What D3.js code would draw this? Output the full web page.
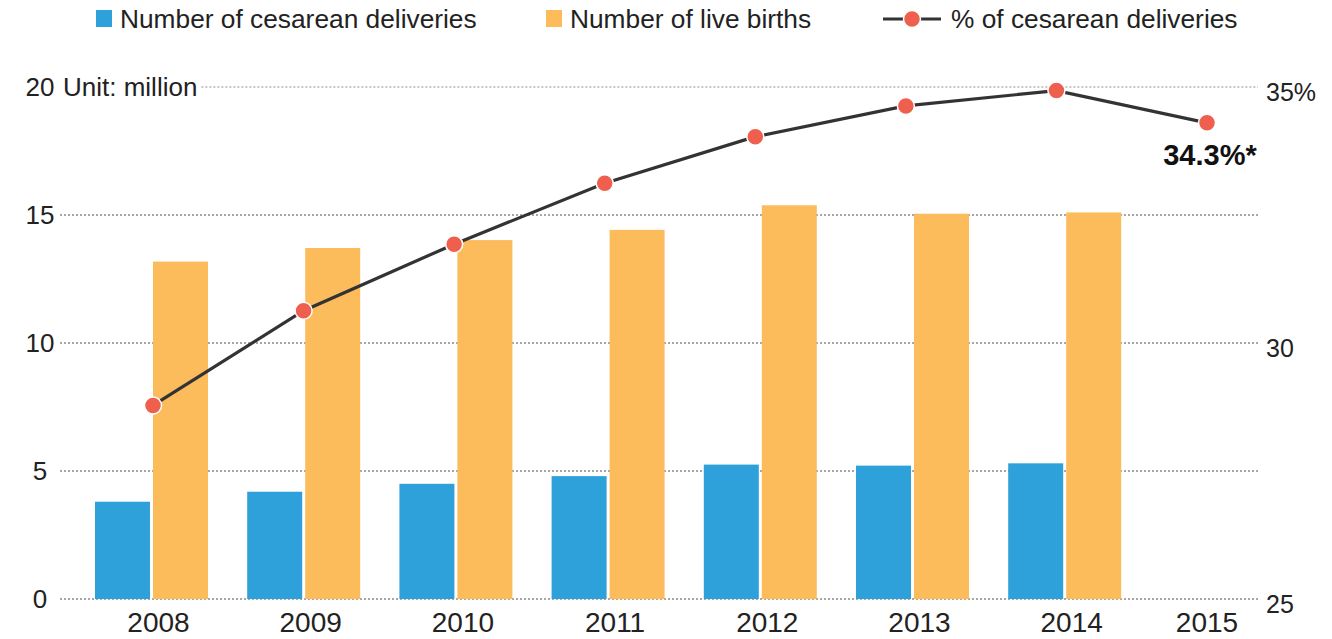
<!DOCTYPE html>
<html><head><meta charset="utf-8">
<script src="https://cdn.jsdelivr.net/npm/d3@7"></script>
<style>
body{margin:0;background:#fff;}
svg{display:block;font-family:"Liberation Sans",Arial,sans-serif;}
</style></head>
<body>
<svg id="chart" width="1332" height="639"></svg>
<script>
const years = ["2008","2009","2010","2011","2012","2013","2014","2015"];
const cesarean = [3.80, 4.19, 4.50, 4.80, 5.25, 5.21, 5.30, null];
const births = [13.18, 13.71, 14.02, 14.42, 15.38, 15.05, 15.10, null];
const rate = [28.78, 30.63, 31.93, 33.12, 34.03, 34.63, 34.93, 34.3];
const leftTicks = [0, 5, 10, 15, 20];
const rightTicks = [25, 30, 35];
const seriesNames = ["Number of cesarean deliveries", "Number of live births", "% of cesarean deliveries"];
const unitLabel = "Unit: million";
const lastLabel = "34.3%*";

const blue = "#2fa1da", orange = "#fcbc5c", red = "#ef5f4e", lineCol = "#333";
const svg = d3.select("#chart");

const yL = d3.scaleLinear().domain([0, 20]).range([599, 87]);
const yR = d3.scaleLinear().domain([25, 35]).range([599, 87]);
const x0 = d3.scaleBand().domain(years).range([75.4, 1293]).paddingInner(0.2576).paddingOuter(0.1288);
const x1 = d3.scaleBand().domain(["c","b"]).range([0, x0.bandwidth()]).paddingInner(0.0517);
const xL = d3.scalePoint().domain(years).range([153, 1207]);

const gridX0 = 60, gridX1 = 1258;

// left labels
const gl = svg.append("g");
leftTicks.forEach(t => {
  gl.append("text").attr("x", 40).attr("y", yL(t)).attr("dy", "0.35em")
    .attr("text-anchor", "middle").attr("font-size", 26).attr("fill", "#222").text(t);
});
const unit = svg.append("text").attr("x", 63).attr("y", yL(20)).attr("dy", "0.35em")
  .attr("font-size", 26).attr("fill", "#222").text(unitLabel);
const ub = unit.node().getBBox();

// grid lines
leftTicks.forEach(t => {
  const top = t === 20;
  svg.append("line").attr("x1", top ? ub.x + ub.width + 4 : gridX0).attr("x2", gridX1)
    .attr("y1", yL(t)).attr("y2", yL(t))
    .attr("stroke", top ? "#b5b5b5" : "#8a8a8a").attr("stroke-width", 1.3)
    .attr("stroke-dasharray", "2,2");
});

// right labels
rightTicks.forEach(t => {
  svg.append("text").attr("x", 1266).attr("y", yR(t)).attr("dy", "0.55em")
    .attr("font-size", 25).attr("fill", "#222").text(t === 35 ? t + "%" : t);
});

// bars
const data = years.map((y, i) => ({year: y, c: cesarean[i], b: births[i], r: rate[i]}));
const g = svg.append("g");
data.filter(d => d.c != null).forEach(d => {
  g.append("rect").attr("x", x0(d.year) + x1("c")).attr("width", x1.bandwidth())
    .attr("y", yL(d.c)).attr("height", yL(0) - yL(d.c)).attr("fill", blue);
  g.append("rect").attr("x", x0(d.year) + x1("b")).attr("width", x1.bandwidth())
    .attr("y", yL(d.b)).attr("height", yL(0) - yL(d.b)).attr("fill", orange);
});

// line
const line = d3.line().x(d => xL(d.year)).y(d => yR(d.r));
svg.append("path").datum(data).attr("d", line).attr("fill", "none")
  .attr("stroke", lineCol).attr("stroke-width", 3.2);
svg.selectAll("circle.pt").data(data).enter().append("circle").attr("class", "pt")
  .attr("cx", d => xL(d.year)).attr("cy", d => yR(d.r)).attr("r", 8.5)
  .attr("fill", red).attr("stroke", "#fff").attr("stroke-width", 1.5);

// last value label
const last = data[data.length - 1];
svg.append("text").attr("x", xL(last.year) + 3).attr("y", yR(last.r) + 42)
  .attr("text-anchor", "middle").attr("font-size", 29).attr("font-weight", "bold")
  .attr("fill", "#111").text(lastLabel);

// x labels
data.forEach(d => {
  const cx = d.c != null ? x0(d.year) + x0.bandwidth() / 2 + 7 : xL(d.year);
  svg.append("text").attr("x", cx).attr("y", 632).attr("text-anchor", "middle")
    .attr("font-size", 28).attr("fill", "#222").text(d.year);
});

// legend
const lg = svg.append("g");
lg.append("rect").attr("x", 96).attr("y", 10).attr("width", 16).attr("height", 17).attr("fill", blue);
lg.append("text").attr("x", 120).attr("y", 28).attr("font-size", 26.3).attr("fill", "#222").text(seriesNames[0]);
lg.append("rect").attr("x", 546).attr("y", 10).attr("width", 16).attr("height", 17).attr("fill", orange);
lg.append("text").attr("x", 570).attr("y", 28).attr("font-size", 26.3).attr("fill", "#222").text(seriesNames[1]);
lg.append("line").attr("x1", 883).attr("x2", 941).attr("y1", 19).attr("y2", 19)
  .attr("stroke", lineCol).attr("stroke-width", 3);
lg.append("circle").attr("cx", 912).attr("cy", 19).attr("r", 8.5).attr("fill", red)
  .attr("stroke", "#fff").attr("stroke-width", 1.5);
lg.append("text").attr("x", 951).attr("y", 28).attr("font-size", 26.3).attr("fill", "#222").text(seriesNames[2]);
</script>
</body></html>
